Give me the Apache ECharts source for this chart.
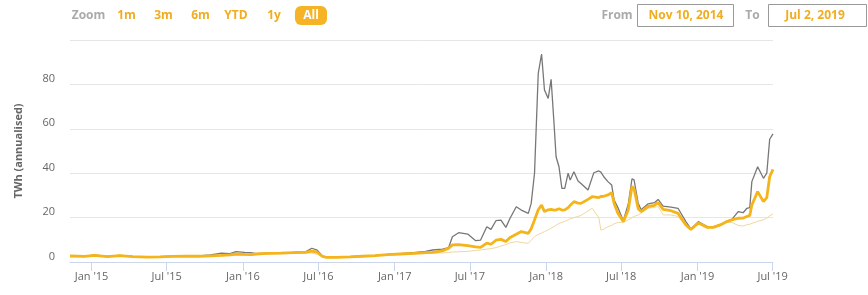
<!DOCTYPE html>
<html>
<head>
<meta charset="utf-8">
<script src="https://cdn.jsdelivr.net/npm/echarts@6/dist/echarts.min.js"></script>
<style>
  html, body { margin: 0; padding: 0; background: #fff; }
  #chart { width: 868px; height: 295px; }
</style>
</head>
<body>
<div id="chart"></div>
<script>
// ---- data (TWh annualised) ----
const dates = [
  '2014-11-10','2014-12-15','2015-01-08','2015-02-08','2015-03-10','2015-04-10','2015-05-15','2015-06-15',
  '2015-07-15','2015-08-15','2015-09-15','2015-10-15','2015-11-10','2015-12-01','2015-12-15','2016-01-05',
  '2016-01-20','2016-02-01','2016-03-01','2016-04-01','2016-05-01','2016-06-01','2016-06-15','2016-06-28',
  '2016-07-10','2016-07-20','2016-08-15','2016-09-15','2016-10-15','2016-11-15','2016-12-15','2017-01-15',
  '2017-02-16','2017-03-16','2017-04-02','2017-04-26','2017-05-11','2017-05-20','2017-06-04','2017-06-26',
  '2017-07-15','2017-07-27','2017-08-11','2017-08-21','2017-09-02','2017-09-14','2017-09-26','2017-10-06',
  '2017-10-21','2017-11-02','2017-11-19','2017-11-26','2017-12-04','2017-12-13','2017-12-21','2017-12-28',
  '2018-01-06','2018-01-13','2018-01-20','2018-01-25','2018-02-01','2018-02-08','2018-02-15','2018-02-23',
  '2018-02-28','2018-03-09','2018-03-19','2018-03-26','2018-04-12','2018-04-22','2018-04-26','2018-05-08',
  '2018-05-13','2018-05-20','2018-05-30','2018-06-08','2018-06-14','2018-06-23','2018-07-06','2018-07-18',
  '2018-07-27','2018-08-01','2018-08-11','2018-08-18','2018-09-04','2018-09-19','2018-09-28','2018-10-10',
  '2018-10-29','2018-11-15','2018-12-04','2018-12-16','2019-01-03','2019-01-08','2019-01-25','2019-02-08',
  '2019-02-25','2019-03-13','2019-03-25','2019-04-09','2019-04-21','2019-04-30','2019-05-07','2019-05-12',
  '2019-05-26','2019-06-09','2019-06-17','2019-06-24','2019-07-02'
];
const estimate = [
  2.7,2.5,3.0,2.4,2.9,2.4,2.2,2.3,
  2.5,2.6,2.6,2.8,3.0,3.2,3.6,3.4,
  3.3,3.6,3.9,4.0,4.2,4.4,4.9,4.4,
  2.6,2.1,2.1,2.3,2.6,2.9,3.3,3.6,
  3.9,4.2,4.3,5.0,6.2,7.7,7.8,7.4,
  6.8,6.6,8.5,8.0,9.8,10.2,9.2,11.0,
  12.5,13.7,12.9,15.0,18.9,23.5,25.7,22.7,
  23.5,23.7,23.4,23.5,24.0,23.4,23.5,24.5,
  25.5,27.2,26.5,26.4,28.2,29.4,29.0,29.0,
  29.5,29.6,30.2,31.2,26.4,22.0,18.2,23.4,
  34.0,33.0,24.0,22.7,25.0,25.5,26.7,23.7,
  23.1,21.9,16.7,14.7,17.5,17.1,15.6,15.6,
  16.7,18.2,19.0,19.7,19.8,20.5,21.0,25.7,
  31.7,27.2,29.0,38.4,41.7
];
const upperBound = [
  2.9,2.6,3.1,2.5,3.0,2.5,2.3,2.4,
  2.6,2.7,2.8,3.2,4.0,3.8,4.7,4.3,
  4.2,3.8,4.0,4.1,4.3,4.7,6.2,5.3,
  2.8,2.2,2.2,2.4,2.7,3.0,3.4,3.8,
  4.2,4.8,5.4,5.8,6.5,11.4,13.2,12.6,
  9.6,9.9,15.9,14.7,18.6,18.9,15.6,19.7,
  24.9,23.4,21.9,26.4,40.0,85.0,93.7,77.5,
  73.7,82.3,62.5,47.4,42.9,33.2,33.2,40.0,
  36.9,40.7,36.5,35.4,32.4,38.0,40.2,41.0,
  40.5,38.4,36.2,34.7,27.9,24.5,18.6,26.0,
  37.5,37.0,26.4,23.5,26.2,26.7,28.2,25.2,
  24.7,24.2,18.2,14.9,18.2,17.6,15.9,15.8,
  16.9,18.4,19.2,22.7,22.2,24.2,24.5,36.2,
  42.9,37.7,40.0,55.3,57.7
];
const lowerBound = [
  2.5,2.4,2.8,2.3,2.7,2.3,2.1,2.2,
  2.4,2.5,2.5,2.6,2.8,2.9,3.2,3.1,
  3.0,3.3,3.6,3.7,3.9,4.0,4.0,3.5,
  2.3,2.0,2.0,2.2,2.5,2.8,3.1,3.4,
  3.6,3.8,3.9,4.1,4.3,4.5,4.6,4.8,
  5.2,5.4,5.8,6.0,6.5,7.2,7.8,8.6,
  9.2,8.8,8.4,9.8,11.4,12.5,13.0,13.7,
  14.5,15.2,16.0,16.5,17.4,17.8,18.3,19.0,
  19.5,20.0,20.5,21.0,23.0,24.2,23.5,20.0,
  14.4,14.8,15.9,16.5,17.2,17.8,17.9,19.0,
  20.0,20.5,21.2,22.0,24.2,24.6,25.0,21.2,
  21.2,20.5,16.2,14.5,17.2,16.8,15.4,15.4,
  16.5,17.9,17.8,16.5,16.2,16.8,17.0,17.4,
  18.3,19.0,19.8,20.8,21.6
];
const tickDates = ['2015-01-01','2015-07-01','2016-01-01','2016-07-01','2017-01-01','2017-07-01','2018-01-01','2018-07-01','2019-01-01','2019-07-01'];
const tickLabels = ["Jan '15","Jul '15","Jan '16","Jul '16","Jan '17","Jul '17","Jan '18","Jul '18","Jan '19","Jul '19"];
const yTicks = [0, 20, 40, 60, 80];
const rangeButtons = ['1m','3m','6m','YTD','1y','All'];
const fromText = 'Nov 10, 2014';
const toText = 'Jul 2, 2019';

// ---- chart ----
const toTs = s => { const p = s.split('-'); return Date.UTC(+p[0], +p[1]-1, +p[2]); };
const tickTs = tickDates.map(toTs);
const pairs = arr => dates.map((d, i) => [toTs(d), arr[i]]);

const FONT = '"Open Sans", "Liberation Sans", sans-serif';
const ORANGE = '#f2ac1f';
const btnX = [126.5, 163.5, 200.5, 236, 274, 311];

const graphic = [
  { type: 'text', x: 88.5, y: 15.5, style: { text: 'Zoom', fill: '#aaaaaa', font: 'bold 12px ' + FONT, align: 'center', verticalAlign: 'middle' } },
  { type: 'rect', shape: { x: 295, y: 6, width: 32, height: 19, r: 6 }, style: { fill: '#f5b326' } }
];
rangeButtons.forEach((b, i) => {
  graphic.push({ type: 'text', x: btnX[i], y: 15.5,
    style: { text: b, fill: b === 'All' ? '#ffffff' : ORANGE, font: 'bold 12px ' + FONT, align: 'center', verticalAlign: 'middle' } });
});
graphic.push(
  { type: 'text', x: 617, y: 15.5, style: { text: 'From', fill: '#aaaaaa', font: 'bold 12px ' + FONT, align: 'center', verticalAlign: 'middle' } },
  { type: 'rect', shape: { x: 637.5, y: 4.5, width: 96, height: 22 }, style: { fill: '#fff', stroke: '#999', lineWidth: 1 } },
  { type: 'text', x: 686, y: 15.5, style: { text: fromText, fill: ORANGE, font: 'bold 12px ' + FONT, align: 'center', verticalAlign: 'middle' } },
  { type: 'text', x: 752.5, y: 15.5, style: { text: 'To', fill: '#aaaaaa', font: 'bold 12px ' + FONT, align: 'center', verticalAlign: 'middle' } },
  { type: 'rect', shape: { x: 768.5, y: 4.5, width: 98, height: 22 }, style: { fill: '#fff', stroke: '#999', lineWidth: 1 } },
  { type: 'text', x: 815, y: 15.5, style: { text: toText, fill: ORANGE, font: 'bold 12px ' + FONT, align: 'center', verticalAlign: 'middle' } }
);

const chart = echarts.init(document.getElementById('chart'), null, { renderer: 'canvas' });
chart.setOption({
  animation: false,
  backgroundColor: '#ffffff',
  textStyle: { fontFamily: FONT },
  grid: { left: 70, right: 95, top: 40, bottom: 33, containLabel: false },
  xAxis: {
    type: 'value',
    min: toTs(dates[0]),
    max: toTs(dates[dates.length - 1]),
    axisLine: { lineStyle: { color: '#ccd6eb', width: 1 } },
    axisTick: { show: true, length: 9, lineStyle: { color: '#ccd6eb' }, customValues: tickTs },
    axisLabel: {
      customValues: tickTs,
      showMinLabel: true, showMaxLabel: true,
      color: '#666666', fontSize: 11, margin: 9, fontFamily: FONT,
      formatter: v => { const i = tickTs.indexOf(v); return i >= 0 ? tickLabels[i] : ''; }
    },
    splitLine: { show: false }
  },
  yAxis: {
    type: 'value',
    min: 0, max: 100, interval: 20,
    name: 'TWh (annualised)',
    nameLocation: 'middle',
    nameGap: 46,
    nameTextStyle: { color: '#666666', fontSize: 11, fontWeight: 'bold', fontFamily: FONT },
    axisLine: { show: false },
    axisTick: { show: false },
    axisLabel: {
      color: '#666666', fontSize: 11, margin: 15, verticalAlign: 'bottom', fontFamily: FONT,
      formatter: v => yTicks.indexOf(v) >= 0 ? String(v) : ''
    },
    splitLine: { lineStyle: { color: '#e6e6e6', width: 1 } }
  },
  series: [
    { name: 'Lower bound', type: 'line', data: pairs(lowerBound), showSymbol: false, symbol: 'none',
      lineStyle: { color: '#efd8a0', width: 1 } },
    { name: 'Upper bound', type: 'line', data: pairs(upperBound), showSymbol: false, symbol: 'none',
      lineStyle: { color: '#777777', width: 1.3 } },
    { name: 'Estimate', type: 'line', data: pairs(estimate), showSymbol: false, symbol: 'none',
      lineStyle: { color: '#f4b41a', width: 2.8 } }
  ],
  graphic: graphic
});
</script>
</body>
</html>
